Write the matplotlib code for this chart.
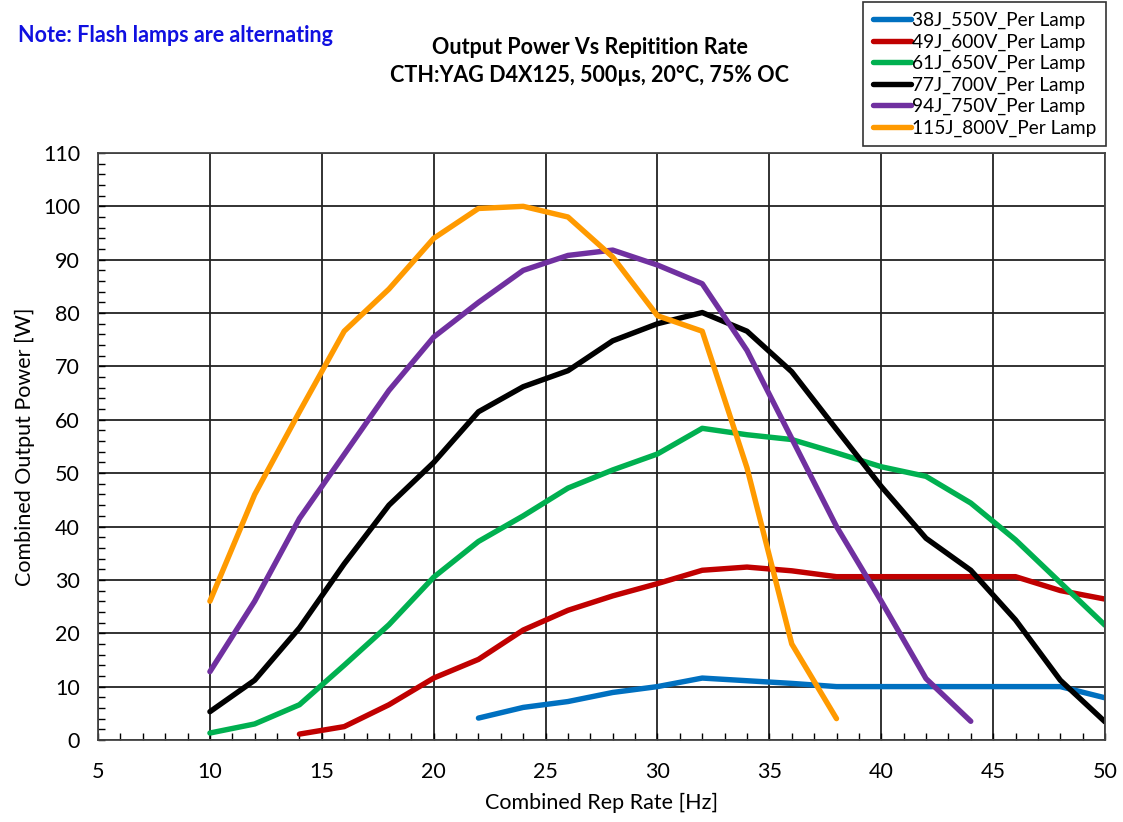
import numpy as np
import matplotlib.pyplot as plt
from matplotlib.ticker import MultipleLocator

plt.rcParams['font.family'] = ['Lato', 'DejaVu Sans']

# rep rate [Hz] and combined output power [W]
x_38 = [22, 24, 26, 28, 30, 32, 34, 36, 38, 40, 42, 44, 46, 48, 50]
p_38 = [4.1, 6.1, 7.2, 8.9, 10, 11.6, 11.1, 10.6, 10, 10, 10, 10, 10, 10, 7.9]

x_49 = [14, 16, 18, 20, 22, 24, 26, 28, 30, 32, 34, 36, 38, 40, 42, 44, 46, 48, 50]
p_49 = [1.1, 2.5, 6.6, 11.6, 15.1, 20.6, 24.3, 27, 29.3, 31.8, 32.4, 31.7, 30.6,
        30.6, 30.6, 30.6, 30.6, 28, 26.4]

x_61 = [10, 12, 14, 16, 18, 20, 22, 24, 26, 28, 30, 32, 34, 36, 38, 40, 42, 44, 46, 48, 50]
p_61 = [1.3, 3, 6.6, 14, 21.6, 30.5, 37.2, 42, 47.2, 50.6, 53.6, 58.4, 57.2, 56.3,
        53.8, 51.2, 49.4, 44.4, 37.5, 29.5, 21.5]

x_77 = [10, 12, 14, 16, 18, 20, 22, 24, 26, 28, 30, 32, 34, 36, 38, 40, 42, 44, 46, 48, 50]
p_77 = [5.3, 11.2, 21, 33, 44, 52, 61.5, 66.2, 69.2, 74.8, 78, 80.1, 76.6, 69,
        58.2, 47.5, 37.8, 31.8, 22.5, 11.2, 3.4]

x_94 = [10, 12, 14, 16, 18, 20, 22, 24, 26, 28, 30, 32, 34, 36, 38, 40, 42, 44]
p_94 = [12.8, 26, 41.5, 53.5, 65.5, 75.5, 82, 88, 90.8, 91.8, 89, 85.5, 73, 56.5,
        40, 26, 11.5, 3.5]

x_115 = [10, 12, 14, 16, 18, 20, 22, 24, 26, 28, 30, 32, 34, 36, 38]
p_115 = [26, 46, 61.5, 76.6, 84.5, 94, 99.6, 100, 98, 90.5, 79.5, 76.6, 51, 18, 4]

labels = ['38J_550V_Per Lamp', '49J_600V_Per Lamp', '61J_650V_Per Lamp',
          '77J_700V_Per Lamp', '94J_750V_Per Lamp', '115J_800V_Per Lamp']
colors = ['#0070C0', '#C00000', '#00B050', '#000000', '#7030A0', '#FF9A00']

fig = plt.figure(figsize=(11.23, 8.22), dpi=100)
ax = fig.add_axes([0.0873, 0.0998, 0.8967, 0.7141])

series = [(x_38, p_38), (x_49, p_49), (x_61, p_61), (x_77, p_77), (x_94, p_94), (x_115, p_115)]
for (xs, ys), lab, c in zip(series, labels, colors):
    ax.plot(xs, ys, color=c, lw=3.9, label=lab, solid_capstyle='round', solid_joinstyle='round')

ax.set_xlim(5, 50)
ax.set_ylim(0, 110)
ax.xaxis.set_major_locator(MultipleLocator(5))
ax.xaxis.set_minor_locator(MultipleLocator(1))
ax.yaxis.set_major_locator(MultipleLocator(10))
ax.yaxis.set_minor_locator(MultipleLocator(2))
ax.grid(True, which='major', color='#222222', lw=1.3)
ax.tick_params(axis='x', which='both', direction='in', length=5, width=1, pad=16, labelsize=15.5)
ax.tick_params(axis='y', which='both', direction='in', length=5, width=1, pad=13, labelsize=15.5)
for s in ax.spines.values():
    s.set_color('#444444')
    s.set_linewidth(1.3)

ax.set_xlabel('Combined Rep Rate [Hz]', fontsize=15.5, labelpad=8)
ax.set_ylabel('Combined Output Power [W]', fontsize=15.5, labelpad=6)

fig.text(0.525, 0.925, 'Output Power Vs Repitition Rate\nCTH:YAG D4X125, 500\u00b5s, 20\u00b0C, 75% OC',
         ha='center', va='center', fontsize=15.5, fontweight='bold', linespacing=1.45)
fig.text(0.016, 0.957, 'Note: Flash lamps are alternating', ha='left', va='center',
         fontsize=15.5, fontweight='bold', color='#1010E0')

leg = fig.legend(loc='upper right', bbox_to_anchor=(0.985, 0.997), borderaxespad=0,
                 fontsize=13.8, handlelength=2.0, handletextpad=0.05, labelspacing=0.22,
                 fancybox=False, edgecolor='#333333', framealpha=1, borderpad=0.5)
leg.get_frame().set_linewidth(1.2)

fig.savefig('out.png', dpi=100)
